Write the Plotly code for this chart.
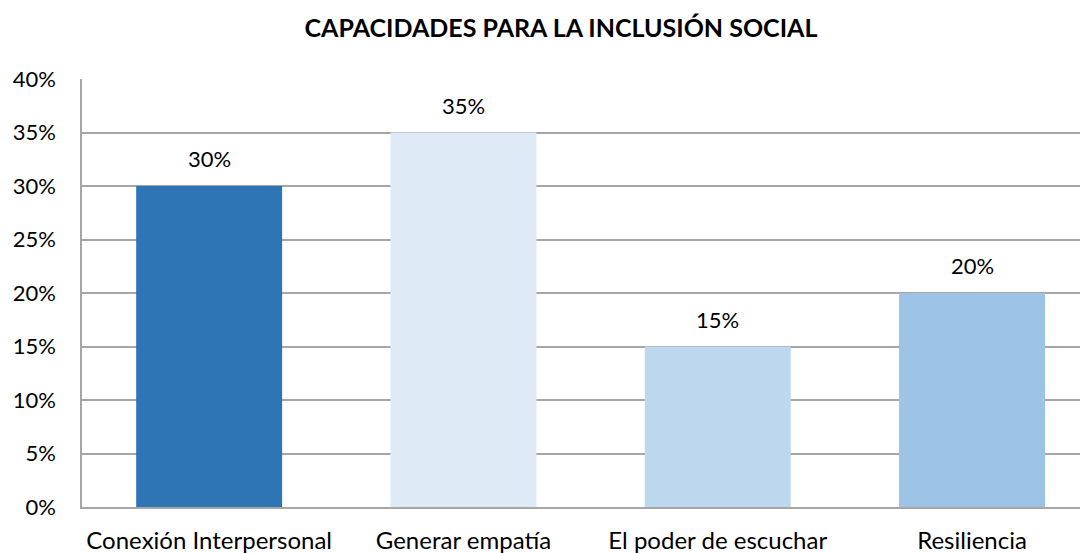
import plotly.graph_objects as go

categories = ["Conexión Interpersonal", "Generar empatía", "El poder de escuchar", "Resiliencia"]
values = [0.30, 0.35, 0.15, 0.20]
colors = ["#2E75B6", "#DEEBF7", "#BDD7EE", "#9DC3E6"]
title = "CAPACIDADES PARA LA INCLUSIÓN SOCIAL"
y_ticks = [0, 0.05, 0.10, 0.15, 0.20, 0.25, 0.30, 0.35, 0.40]

FONT = "Lato"
# page body has an 8px margin; compensate in figure coordinates
OFF = 8
W, H = 1088 - OFF, 553
L, T, B = 82 - OFF, 79 - OFF, H - (507 - OFF)
CAT_W = 254.3

fig = go.Figure()
fig.add_trace(go.Bar(
    x=list(range(len(categories))),
    y=values,
    marker=dict(color=colors, line=dict(width=0)),
    width=0.574,
    hoverinfo="x+y",
))

for i, v in enumerate(values):
    fig.add_annotation(x=i, y=v, xref="x", yref="y", text=f"{v*100:.0f}%",
                       showarrow=False, yanchor="bottom", yshift=12,
                       font=dict(family=FONT, size=22, color="#000000"))

fig.update_layout(
    width=W, height=H,
    margin=dict(l=L, r=0, t=T, b=B, autoexpand=False),
    paper_bgcolor="white", plot_bgcolor="white",
    showlegend=False,
    title=dict(text="<b>" + title + "</b>", xref="container", yref="container",
               x=(561 - OFF) / W, y=1 - (28 - OFF) / H, xanchor="center", yanchor="middle",
               automargin=False,
               font=dict(family=FONT, size=25, color="#000000")),
    font=dict(family=FONT, size=22, color="#000000"),
)
fig.update_xaxes(
    tickmode="array", tickvals=list(range(len(categories))), ticktext=categories,
    range=[-0.5, -0.5 + (W - L) / CAT_W],
    showgrid=False, zeroline=False, automargin=False,
    showline=True, linecolor="#A6A6A6", linewidth=1.5,
    ticks="outside", ticklen=11, tickcolor="rgba(0,0,0,0)",
    tickfont=dict(family=FONT, size=24, color="#000000"),
)
fig.update_yaxes(
    range=[0, 0.40], tickmode="array", tickvals=y_ticks,
    ticktext=[f"{v*100:.0f}%" for v in y_ticks],
    showgrid=True, gridcolor="#A6A6A6", gridwidth=1.5,
    zeroline=False, automargin=False,
    showline=True, linecolor="#A6A6A6", linewidth=1.5,
    ticks="outside", ticklen=20, tickcolor="rgba(0,0,0,0)",
    tickfont=dict(family=FONT, size=22, color="#000000"),
)

fig.write_html("out.html")
